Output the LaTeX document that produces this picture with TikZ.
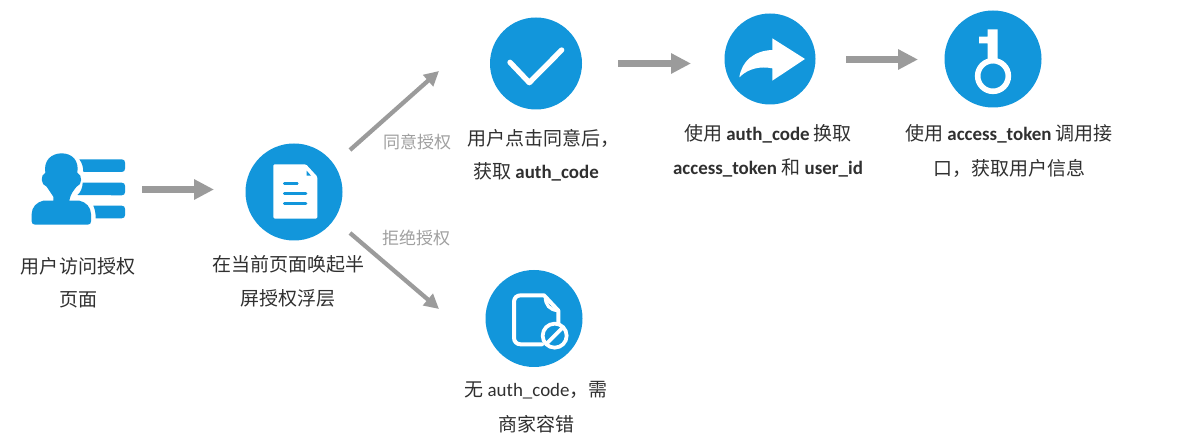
\documentclass[tikz,border=0pt]{standalone}
\usepackage{fontspec}
\setmainfont{Carlito}
\newfontfamily\cjk{Noto Sans CJK SC}
\usetikzlibrary{arrows.meta}
\definecolor{iconblue}{HTML}{1296DB}
\definecolor{arrowgray}{HTML}{9B9B9B}
\definecolor{labelgray}{HTML}{A0A0A0}
\definecolor{textdark}{HTML}{303030}
\newcommand{\zh}[1]{{\cjk\fontsize{14.25pt}{16pt}\selectfont #1}}
\newcommand{\bl}[1]{{\bfseries #1}}
\tikzset{
  disc/.style={circle,fill=iconblue,draw=none,inner sep=0pt,minimum size=#1*0.75pt},
  caption/.style={inner sep=0pt,text=textdark,font=\fontsize{14.2pt}{16pt}\selectfont,anchor=center},
  note/.style={inner sep=0pt,text=labelgray,font=\fontsize{12.75pt}{14pt}\selectfont,anchor=center},
  bigarrow/.style={draw=arrowgray,line width=4.9pt,-{Triangle[length=15pt,width=14.5pt]}},
  diagarrow/.style={draw=arrowgray,line width=3.2pt,-{Triangle[length=11pt,width=11pt]}},
  white stroke/.style={draw=white,line cap=round,line join=round},
  zoomA/.style={shift={(0,130)},x=.25pt,y=-.25pt},
  zoomB/.style={shift={(470,0)},x=.25pt,y=-.25pt},
  zoomC/.style={shift={(830,0)},x=.25pt,y=-.25pt},
  zoomD/.style={shift={(340,220)},x=.25pt,y=-.25pt},
}
\begin{document}
\begin{tikzpicture}[x=.75pt,y=-.75pt]
\useasboundingbox[fill=white] (0,0) rectangle (1177,448);

% discs
\node[disc=97] (docdisc) at (294,192) {};
\node[disc=92] (okdisc) at (536,63.5) {};
\node[disc=91] (sharedisc) at (770,59) {};
\node[disc=97] (keydisc) at (993,59) {};
\node[disc=97] (nodisc) at (534,318.5) {};

% person icon
\begin{scope}[zoomA]
\fill[iconblue] (160,200) .. controls (150,185) and (145,178) .. (140,170)
  .. controls (122,165) and (120,135) .. (136,128)
  .. controls (130,90) and (155,70) .. (185,70)
  .. controls (215,70) and (238,90) .. (232,128)
  .. controls (248,135) and (247,165) .. (230,170)
  .. controls (222,180) and (212,190) .. (208,212)
  -- (238,212) .. controls (258,216) and (273,232) .. (273,252)
  -- (273,274) .. controls (273,280) and (270,284) .. (263,284)
  -- (105,284) .. controls (99,284) and (95,280) .. (95,274)
  -- (95,252) .. controls (95,232) and (110,216) .. (130,212)
  -- (160,212) -- cycle;
\fill[iconblue] (238,88) -- (365,88) .. controls (372,88) and (375,92) .. (375,98)
  -- (375,116) .. controls (375,122) and (372,126) .. (365,126) -- (250,126)
  .. controls (250,112) and (246,98) .. (238,88) -- cycle;
\fill[iconblue] (232,195) .. controls (242,188) and (248,172) .. (248,158) -- (365,158)
  .. controls (372,158) and (375,162) .. (375,168) -- (375,186)
  .. controls (375,192) and (372,196) .. (365,196) -- cycle;
\fill[iconblue] (280,227) -- (365,227) .. controls (372,227) and (375,231) .. (375,237)
  -- (375,255) .. controls (375,261) and (372,265) .. (365,265) -- (287,265)
  .. controls (287,250) and (285,238) .. (280,227) -- cycle;
\end{scope}

% document icon
\begin{scope}[zoomA]
\fill[white,rounded corners=1pt] (820,103) -- (918,103) -- (952,140) -- (952,266) -- (820,266) -- cycle;
\fill[iconblue] (920,122) -- (933,137) -- (920,137) -- cycle;
\draw[iconblue,line width=2pt,line cap=round] (853,160) -- (892,160);
\draw[iconblue,line width=2pt,line cap=round] (853,190) -- (918,190);
\draw[iconblue,line width=2pt,line cap=round] (853,221) -- (918,221);
\end{scope}

% check icon
\begin{scope}[zoomB]
\draw[white stroke,line width=4pt] (120,187) -- (178,248) -- (275,150);
\end{scope}

% share icon
\begin{scope}[zoomB]
\fill[white] (1005,177) -- (907,115) -- (907,150) .. controls (850,152) and (815,185) .. (808,232)
  .. controls (835,205) and (870,198) .. (907,205) -- (907,242) -- cycle;
\end{scope}

% key icon
\begin{scope}[zoomC]
\draw[white,line width=4.2pt] (489,228) circle (46);
\fill[white] (473,88) -- (503,88) -- (503,185) -- (473,185) -- (473,130) -- (447,130) -- (447,110) -- (473,110) -- cycle;
\end{scope}

% rejected file icon
\begin{scope}[zoomD]
\draw[white stroke,line width=3pt] (655,312) -- (655,272) -- (612,226) -- (542,226)
  .. controls (530,226) and (522,234) .. (522,246) -- (522,353)
  .. controls (522,365) and (530,373) .. (542,373) -- (606,373);
\draw[white stroke,line width=2.4pt] (616,230) .. controls (616,255) and (628,270) .. (655,272);
\draw[white,line width=2.8pt] (644,347) circle (36);
\draw[white,line width=2.8pt] (620,371) -- (668,323);
\end{scope}

% connector ends
\coordinate (a1s) at (142,189.5);
\coordinate (a1e) at (214,189.5);
\coordinate (a2s) at (618,63.5);
\coordinate (a2e) at (691,63.5);
\coordinate (a3s) at (846,59.5);
\coordinate (a3e) at (918,59.5);
\coordinate (d1s) at (350,150);
\coordinate (d1e) at (439,71);
\coordinate (d2s) at (350,233);
\coordinate (d2e) at (439,309);

\draw[bigarrow] (a1s) -- (a1e);
\draw[bigarrow] (a2s) -- (a2e);
\draw[bigarrow] (a3s) -- (a3e);
\draw[diagarrow] (d1s) -- (d1e);
\draw[diagarrow] (d2s) -- (d2e);

% labels
\newcommand{\zhs}[1]{{\cjk\fontsize{12.75pt}{14pt}\selectfont #1}}
\node[note] (agree) at (417,142) {\zhs{同意授权}};
\node[note] (refuse) at (416,238) {\zhs{拒绝授权}};

\node[caption] (t1a) at (78,266) {\zh{用户访问授权}};
\node[caption] (t1b) at (78,300) {\zh{页面}};
\node[caption] (t2a) at (288,264.5) {\zh{在当前页面唤起半}};
\node[caption] (t2b) at (288,298) {\zh{屏授权浮层}};
\node[caption] (t3a) at (543,138) {\zh{用户点击同意后，}};
\node[caption] (t3b) at (536,172) {\zh{获取} \bl{auth\_code}};
\node[caption] (t4a) at (768,134) {\zh{使用} \bl{auth\_code} \zh{换取}};
\node[caption] (t4b) at (768,168) {\bl{access\_token} \zh{和} \bl{user\_id}};
\node[caption] (t5a) at (1009,134) {\zh{使用} \bl{access\_token} \zh{调用接}};
\node[caption] (t5b) at (1009,168) {\zh{口，获取用户信息}};
\node[caption] (t6a) at (536,390) {\zh{无} auth\_code\zh{，需}};
\node[caption] (t6b) at (536,424) {\zh{商家容错}};
\end{tikzpicture}
\end{document}
